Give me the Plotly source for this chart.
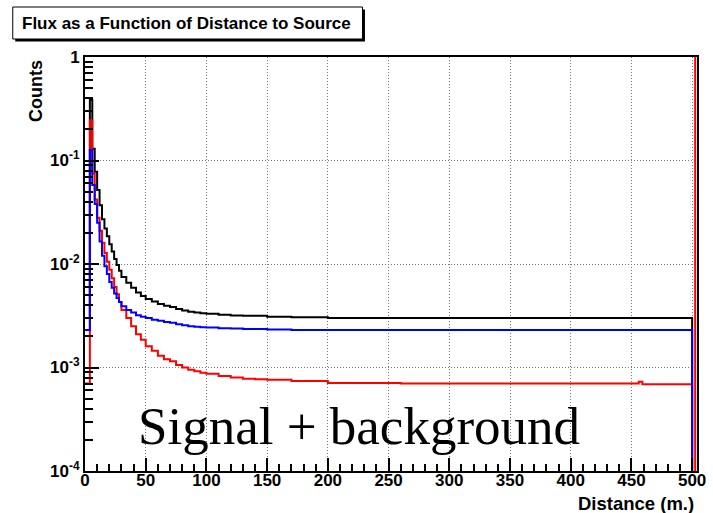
import plotly.graph_objects as go

# ---------------- data ----------------
# histogram bin edges, distance in metres
edges = [0, 4, 6, 8, 10, 12, 14, 16, 18, 20, 22, 24, 26, 28, 30, 34, 38, 42, 46, 50,
         55, 60, 65, 70, 75, 80, 85, 90, 95, 100, 110, 120, 130, 140, 150, 170, 200,
         260, 456, 459, 500, 502.5, 504]

# total (signal + background)
black_counts = [0.003, 0.385, 0.13, 0.078, 0.052, 0.037, 0.027, 0.022, 0.0185, 0.0155,
                0.0132, 0.0112, 0.0098, 0.0086, 0.0075, 0.0066, 0.0059, 0.0053, 0.0049,
                0.0046, 0.00435, 0.0041, 0.00395, 0.00385, 0.00368, 0.00356, 0.00346,
                0.0034, 0.00334, 0.0033, 0.00323, 0.00318, 0.00316, 0.00316, 0.00309,
                0.00306, 0.0030, 0.0030, 0.0030, 0.0030, 0, 0]
# red component
red_counts = [0.0007, 0.245, 0.075, 0.042, 0.028, 0.021, 0.016, 0.0128, 0.0105, 0.0088,
              0.0073, 0.0060, 0.0051, 0.0043, 0.0036, 0.0030, 0.0025, 0.0021, 0.00185,
              0.0016, 0.00145, 0.0013, 0.0012, 0.00115, 0.00106, 0.0010, 0.00095,
              0.00092, 0.00089, 0.00087, 0.00083, 0.0008, 0.00078, 0.00077, 0.00076,
              0.00074, 0.00071, 0.0007, 0.00073, 0.00069, 0, 10]
# blue component
blue_counts = [0.0023, 0.126, 0.058, 0.038, 0.025, 0.0165, 0.012, 0.0095, 0.008, 0.0067,
               0.0059, 0.0052, 0.0047, 0.0043, 0.0039, 0.0036, 0.0034, 0.0032, 0.0031,
               0.0030, 0.0029, 0.00283, 0.00275, 0.0027, 0.00262, 0.00256, 0.00251,
               0.00248, 0.00245, 0.00243, 0.0024, 0.00238, 0.00236, 0.00236, 0.00233,
               0.0023, 0.0023, 0.0023, 0.0023, 0.0023, 0, 0]

x_tick_vals = [0, 50, 100, 150, 200, 250, 300, 350, 400, 450, 500]
x_tick_text = ["0", "50", "100", "150", "200", "250", "300", "350", "400", "450", "500"]
y_tick_vals = [1e-4, 1e-3, 1e-2, 1e-1, 1]
y_tick_text = ["10<sup>-4</sup>", "10<sup>-3</sup>", "10<sup>-2</sup>", "10<sup>-1</sup>", "1"]

title_text = "Flux as a Function of Distance to Source"
x_title = "Distance (m.)"
y_title = "Counts"
label_text = "Signal + background"

# ---------------- figure ----------------
W, H = 713, 513
L, R, T, B = 85, 15.5, 57, 42
PW, PH = W - L - R, H - T - B


def px_to_paper(px, py):
    return (px - L) / PW, (H - B - py) / PH


def step_xy(vals):
    xs = list(edges[:-1]) + [edges[-1]]
    ys = [v if v > 0 else 1e-9 for v in vals]
    ys = ys + [ys[-1]]
    return xs, ys


fig = go.Figure()
for vals, col in [(black_counts, "#000000"), (red_counts, "#ff0000"), (blue_counts, "#0000ff")]:
    xs, ys = step_xy(vals)
    fig.add_trace(go.Scatter(x=xs, y=ys, mode="lines", line=dict(color=col, width=2, shape="hv"),
                             showlegend=False, hoverinfo="skip"))

axis_font = dict(family="Liberation Sans, Arial, sans-serif", size=17, color="black", weight="bold")
grid_col = "#777777"
grid_dash = "1px,2px"

fig.update_xaxes(range=[0, 504], tickvals=x_tick_vals, ticktext=x_tick_text,
                 ticks="inside", ticklen=13, tickwidth=1.5, tickcolor="black",
                 showline=True, linecolor="black", linewidth=2, mirror=True,
                 showgrid=True, gridcolor=grid_col, griddash=grid_dash, gridwidth=1,
                 zeroline=False, tickfont=axis_font, ticklabelstandoff=-7,
                 minor=dict(dtick=10, tick0=0, ticks="inside", ticklen=7, tickwidth=1.5,
                            tickcolor="black", showgrid=False))
fig.update_yaxes(type="log", range=[-4, 0], tickvals=y_tick_vals, ticktext=y_tick_text,
                 ticks="inside", ticklen=14, tickwidth=1.5, tickcolor="black",
                 showline=True, linecolor="black", linewidth=2, mirror=True,
                 showgrid=True, gridcolor=grid_col, griddash=grid_dash, gridwidth=1,
                 zeroline=False, tickfont=axis_font,
                 minor=dict(dtick="D1", ticks="inside", ticklen=8, tickwidth=1.5,
                            tickcolor="black", showgrid=False))

# title box with shadow
bx0, by0 = px_to_paper(12.7, 7)
bx1, by1 = px_to_paper(362.7, 39)
sx0, sy0 = px_to_paper(15.2, 9.5)
sx1, sy1 = px_to_paper(365.2, 41.5)
fig.add_shape(type="rect", xref="paper", yref="paper", x0=sx0, x1=sx1, y0=sy1, y1=sy0,
              fillcolor="black", line=dict(width=0))
fig.add_shape(type="rect", xref="paper", yref="paper", x0=bx0, x1=bx1, y0=by1, y1=by0,
              fillcolor="white", line=dict(color="black", width=1))
tx, ty = px_to_paper(187, 23)
fig.add_annotation(text=title_text, xref="paper", yref="paper", x=tx, y=ty,
                   xanchor="center", yanchor="middle", showarrow=False,
                   font=dict(family="Liberation Sans, Arial, sans-serif", size=17,
                             color="black", weight="bold"))

cx, cy = px_to_paper(36, 58)
fig.add_annotation(text=y_title, xref="paper", yref="paper", x=cx, y=cy, textangle=-90,
                   xanchor="center", yanchor="top", showarrow=False,
                   font=dict(family="Liberation Sans, Arial, sans-serif", size=18,
                             color="black", weight="bold"))
dx, dy = px_to_paper(696, 504)
fig.add_annotation(text=x_title, xref="paper", yref="paper", x=dx, y=dy,
                   xanchor="right", yanchor="middle", showarrow=False,
                   font=dict(family="Liberation Sans, Arial, sans-serif", size=18.5,
                             color="black", weight="bold"))
sgx, sgy = px_to_paper(136, 426)
fig.add_annotation(text=label_text, xref="paper", yref="paper", x=sgx, y=sgy,
                   xanchor="left", yanchor="middle", showarrow=False,
                   font=dict(family="Liberation Serif, Times New Roman, serif", size=53,
                             color="black"))

fig.update_layout(width=W, height=H, margin=dict(l=L, r=R, t=T, b=B, autoexpand=False),
                  paper_bgcolor="white", plot_bgcolor="white", showlegend=False)

fig.write_html("out.html")
